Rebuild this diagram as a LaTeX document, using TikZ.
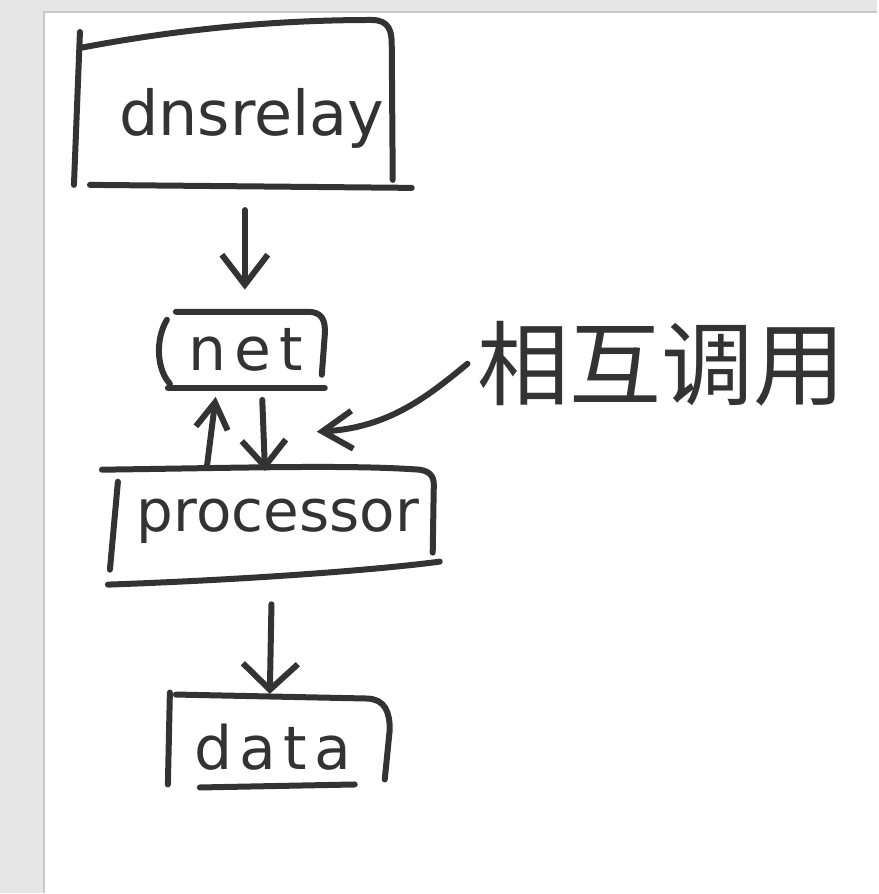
\documentclass[tikz,border=0pt]{standalone}
\usepackage{fontspec}
\setmainfont{DejaVu Sans}
\newfontfamily\cjk{Noto Sans CJK SC}
\usetikzlibrary{arrows.meta}
\definecolor{ink}{HTML}{333333}
\definecolor{strip}{HTML}{E6E6E6}
\definecolor{stripline}{HTML}{C8C8C8}
\begin{document}
\begin{tikzpicture}[x=1pt,y=-1pt,
  pen/.style={draw=ink,line width=6pt,line cap=round,line join=round},
  boxarea/.style={draw=none,inner sep=0pt},
  word/.style={text=ink,inner sep=0pt,font=\fontsize{58}{60}\selectfont}]
% canvas
\fill[white] (0,0) rectangle (878,894);
\fill[strip] (0,0) rectangle (44,894);
\fill[strip] (44,0) rectangle (878,12);
\draw[stripline,line width=1.2pt] (44,894) -- (44,12) -- (878,12);
% box areas
\node[boxarea,minimum width=337pt,minimum height=166pt] (dns) at (243.5,105) {};
\node[boxarea,minimum width=168pt,minimum height=76pt] (net) at (242,350) {};
\node[boxarea,minimum width=332pt,minimum height=117pt] (proc) at (274,526) {};
\node[boxarea,minimum width=224pt,minimum height=93pt] (data) at (280,741) {};
% texts
\node[word,font=\fontsize{62}{64}\selectfont] (tdns) at (252,118) {dnsrelay};
\node[word,font=\fontsize{60}{62}\selectfont\addfontfeature{LetterSpace=14}] (tnet) at (246,350) {net};
\node[word,font=\fontsize{58}{60}\selectfont] (tproc) at (278,522) {processor};
\node[word,font=\fontsize{60}{62}\selectfont\addfontfeature{LetterSpace=12}] (tdata) at (273,748) {data};
\node[text=ink,inner sep=0pt,font=\cjk\fontsize{92}{96}\selectfont] (lbl) at (662,364) {相互调用};
% hand-drawn outlines
\draw[pen] (80,32) -- (74,185);
\draw[pen] (80,48) .. controls (200,25) and (300,20) .. (372,20) .. controls (390,20) and (392,32) .. (392,45) -- (393,180);
\draw[pen] (90,185) -- (412,188);
\draw[pen] (167,320) .. controls (155,340) and (157,370) .. (170,384);
\draw[pen] (176,312) -- (308,312) .. controls (322,312) and (326,320) .. (325,335) -- (322,375);
\draw[pen] (168,388) -- (325,388);
\draw[pen] (118,482) -- (110,570);
\draw[pen] (102,470) .. controls (250,468) and (350,465) .. (420,470) .. controls (432,472) and (435,478) .. (434,490) -- (433,553);
\draw[pen] (108,585) .. controls (250,580) and (380,570) .. (440,562);
\draw[pen] (170,693) -- (168,785);
\draw[pen] (176,695) -- (368,699) .. controls (385,700) and (390,712) .. (390,730) -- (385,780);
\draw[pen] (200,788) -- (355,785);
% connectors
\draw[pen,-{Straight Barb[length=30pt,width=46pt]},shorten <=22pt,shorten >=22pt] ([xshift=1.5pt]dns.south) -- ([xshift=3pt]net.north);
\draw[pen,-{Straight Barb[length=26pt,width=32pt]},shorten <=0pt,shorten >=9pt] ([xshift=-67pt]proc.north) -- ([xshift=-25pt]net.south);
\draw[pen,-{Straight Barb[length=26pt,width=44pt]},shorten <=12pt,shorten >=-4pt] ([xshift=20pt]net.south) -- ([xshift=-9pt]proc.north);
\draw[pen,-{Straight Barb[length=26pt,width=55pt]},shorten <=20pt,shorten >=0pt] ([xshift=-2pt]proc.south) -- ([xshift=-10pt]data.north);
\coordinate (tgt) at (317,432);
\draw[pen,-{Straight Barb[length=30pt,width=38pt]}] ([xshift=-10pt,yshift=0pt]lbl.west) .. controls (430,395) and (390,428) .. (tgt);
\end{tikzpicture}
\end{document}
